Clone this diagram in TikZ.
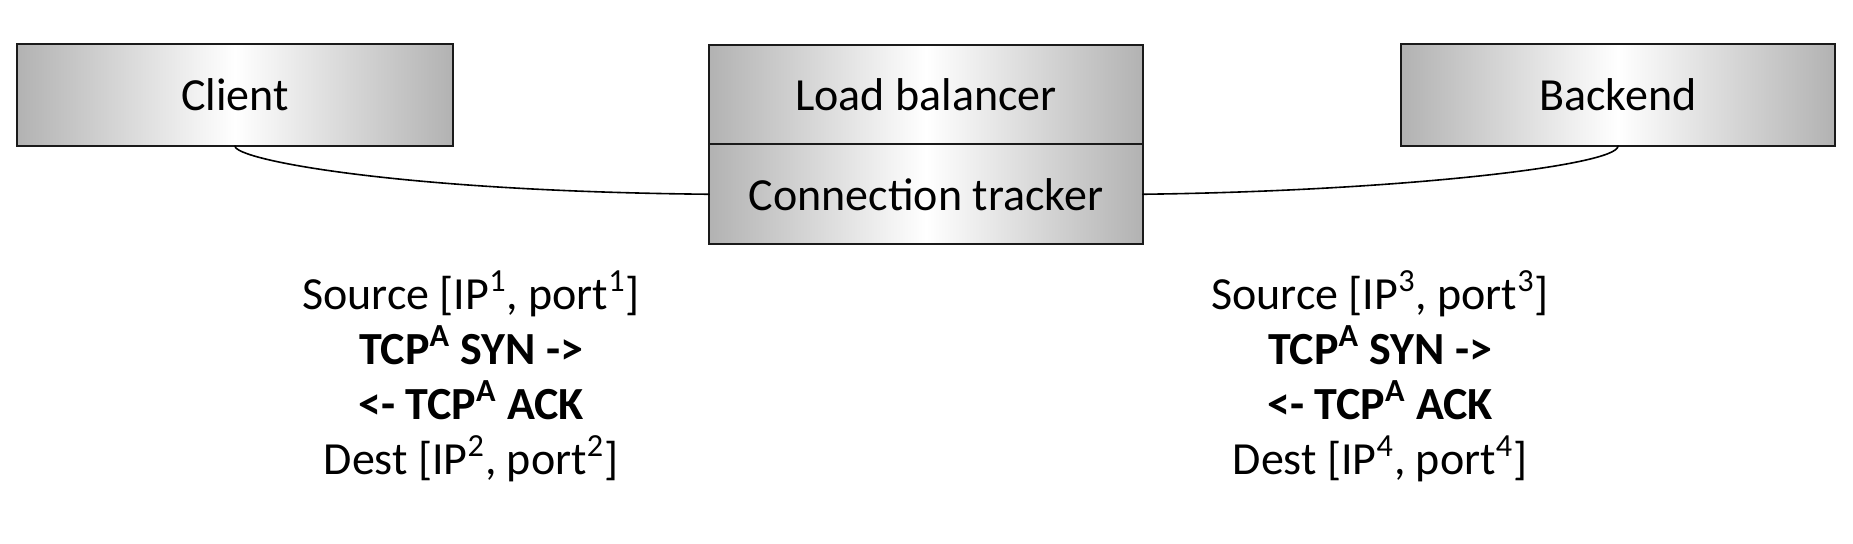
\documentclass[tikz,border=0pt]{standalone}
\usepackage{fontspec}
\setmainfont{Carlito}
\usepackage{tikz}
\usetikzlibrary{positioning}
\definecolor{boxedge}{HTML}{1A1A1A}
\definecolor{boxgray}{HTML}{B2B2B2}

\begin{document}
\begin{tikzpicture}[x=0.5pt, y=0.5pt, line cap=round,
    host/.style={rectangle, draw=boxedge, line width=1pt, outer sep=0pt,
                 left color=boxgray, right color=boxgray, middle color=white,
                 inner sep=0pt, minimum width=217pt, minimum height=50pt,
                 font=\fontsize{23}{27}\selectfont},
    flow/.style={align=center, inner sep=0pt,
                 font=\fontsize{23}{27.5}\selectfont},
    wire/.style={line width=0.8pt, black}]

  % ---- the three machines ---------------------------------------------------
  \node[host, minimum width=218pt, minimum height=51pt] (client) at (235,448) {Client};
  \node[host, minimum height=49.75pt] (lb) at (926,448.5) {Load balancer};
  \node[host, below=0pt of lb] (ct) {Connection tracker};
  \node[host, minimum height=51pt] (backend) at (1618,448) {Backend};

  % ---- the two legs of the connection ----------------------------------------
  \draw[wire] (client.south) .. controls +(0,-14) and +(-309,3) .. (ct.west);
  \draw[wire] (backend.south) .. controls +(0,-20) and +(250,3) .. (ct.east);

  % ---- what each leg carries ------------------------------------------------
  \node[flow] (legone) at (471,166.5)
    {Source [IP\textsuperscript{1}, port\textsuperscript{1}]\\
     \textbf{TCP\textsuperscript{A} SYN ->}\\
     \textbf{<- TCP\textsuperscript{A} ACK}\\
     Dest [IP\textsuperscript{2}, port\textsuperscript{2}]};
  \node[flow] (legtwo) at (1380,166.5)
    {Source [IP\textsuperscript{3}, port\textsuperscript{3}]\\
     \textbf{TCP\textsuperscript{A} SYN ->}\\
     \textbf{<- TCP\textsuperscript{A} ACK}\\
     Dest [IP\textsuperscript{4}, port\textsuperscript{4}]};

  \useasboundingbox (0,0) rectangle (1853,543);
\end{tikzpicture}
\end{document}
